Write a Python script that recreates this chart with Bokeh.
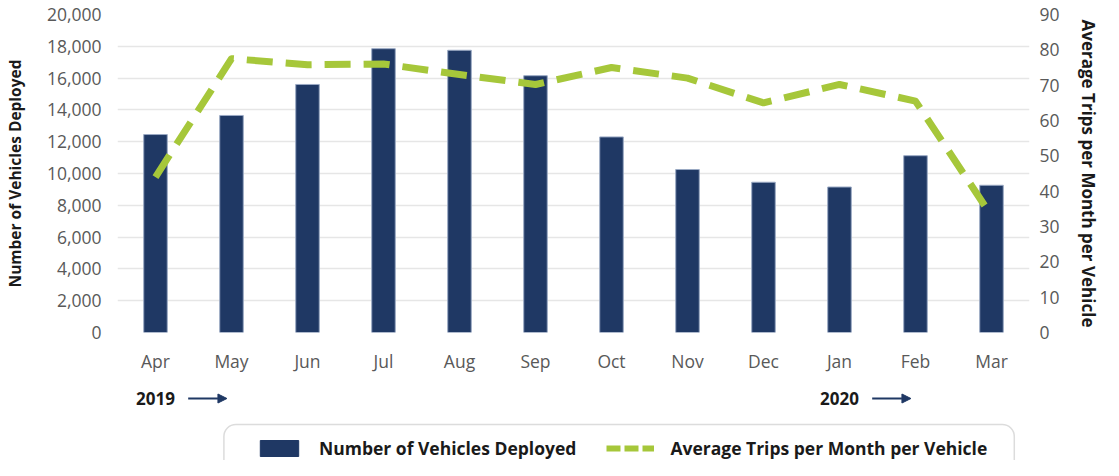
from bokeh.plotting import figure
from bokeh.layouts import column
from bokeh.models import (Range1d, LinearAxis, FixedTicker, Legend, LegendItem, Label,
                          Arrow, NormalHead, NumeralTickFormatter, FactorRange, Quad)
from bokeh.embed import file_html
from bokeh.resources import INLINE

months = ["Apr", "May", "Jun", "Jul", "Aug", "Sep", "Oct", "Nov", "Dec", "Jan", "Feb", "Mar"]
vehicles = [12450, 13650, 15600, 17850, 17750, 16150, 12300, 10250, 9450, 9150, 11120, 9260]
trips = [44, 77.5, 75.8, 76, 73, 70.2, 75, 72, 65, 70.2, 65.5, 33]
year_labels = [("2019", "Apr"), ("2020", "Jan")]
series_names = ["Number of Vehicles Deployed", "Average Trips per Month per Vehicle"]

NAVY = "#1F3864"
GREEN = "#A6C73A"
FONT = "Open Sans"
GRAY = "#595959"
DARK = "#1a1a1a"

xr = FactorRange(*months)

p = figure(x_range=xr, y_range=Range1d(0, 20000),
           width=1103, height=380,
           min_border_left=112, min_border_right=74, min_border_top=14, min_border_bottom=48,
           output_backend="svg", toolbar_location=None, y_axis_location=None)
p.outline_line_color = None
p.extra_y_ranges = {"trips": Range1d(0, 90)}

bars = p.vbar(x=months, top=vehicles, width=0.31, fill_color=NAVY,
              line_color="#9AA9C4", line_width=1)
line = p.line(x=months, y=trips, y_range_name="trips", line_color=GREEN,
              line_width=7, line_dash="26 13", line_join="round")

left = LinearAxis(ticker=FixedTicker(ticks=list(range(0, 20001, 2000))),
                  formatter=NumeralTickFormatter(format="0,0"),
                  axis_label="Number of Vehicles Deployed")
right = LinearAxis(y_range_name="trips", ticker=FixedTicker(ticks=list(range(0, 91, 10))),
                   axis_label="Average Trips per Month per Vehicle")
p.add_layout(left, "left")
p.add_layout(right, "right")

for ax in [left, right, p.xaxis[0]]:
    ax.axis_line_color = None
    ax.major_tick_line_color = None
    ax.minor_tick_line_color = None
    ax.major_tick_out = 0
    ax.major_tick_in = 0
    ax.minor_tick_out = 0
    ax.minor_tick_in = 0
    ax.major_label_text_font = FONT
    ax.major_label_text_font_size = "17.5px"
    ax.major_label_text_color = GRAY
    ax.axis_label_text_font = FONT
    ax.axis_label_text_font_style = "bold"
    ax.axis_label_text_color = DARK

left.axis_label_text_font_size = "15.5px"
right.axis_label_text_font_size = "17px"
left.major_label_standoff = 16
left.axis_label_standoff = 18
right.major_label_standoff = 10
right.axis_label_standoff = 14
p.xaxis.major_label_standoff = 16

p.xgrid.grid_line_color = None
p.ygrid.grid_line_color = "#E6E6E6"
p.ygrid.grid_line_width = 1.5
p.ygrid.ticker = FixedTicker(ticks=list(range(0, 20001, 2000)))

# bottom strip: year markers and legend
p2 = figure(x_range=xr, y_range=Range1d(0, 80), width=1103, height=80,
            min_border_left=112, min_border_right=74, min_border_top=0, min_border_bottom=0,
            output_backend="svg", toolbar_location=None,
            x_axis_location=None, y_axis_location=None)
p2.outline_line_color = None
p2.grid.grid_line_color = None

for txt, m in year_labels:
    i = months.index(m)
    p2.add_layout(Label(x=i + 0.5, y=62, text=txt, text_font=FONT, text_font_size="17px",
                        text_font_style="bold", text_color=DARK,
                        text_align="center", text_baseline="middle"))
    p2.add_layout(Arrow(x_start=i + 0.93, y_start=62, x_end=i + 1.44, y_end=62,
                        line_color=NAVY, line_width=2,
                        end=NormalHead(size=9, line_color=NAVY, fill_color=NAVY)))

box = p2.quad(left=[1.40], right=[11.80], bottom=[-20], top=[36], fill_color="white",
              line_color="#DCDCDC", line_width=1.5)
if "border_radius" in Quad.properties():
    box.glyph.border_radius = 12

leg_bar = p2.vbar(x=["Apr"], top=[-100], bottom=[-200], width=0.3, fill_color=NAVY, line_color=NAVY)
leg_line = p2.line(x=["Apr", "May"], y=[-100, -100], line_color=GREEN, line_width=6, line_dash="14 4")

legend = Legend(items=[LegendItem(label=series_names[0], renderers=[leg_bar]),
                       LegendItem(label=series_names[1], renderers=[leg_line])],
                orientation="horizontal", location=(122, -16),
                glyph_width=48, glyph_height=20, label_standoff=16, spacing=30, padding=16,
                label_text_font=FONT, label_text_font_size="17.5px", label_text_font_style="bold",
                label_text_color=DARK, border_line_alpha=0, background_fill_alpha=0)
p2.add_layout(legend)

open("out.html", "w").write(file_html(column(p, p2), INLINE))
